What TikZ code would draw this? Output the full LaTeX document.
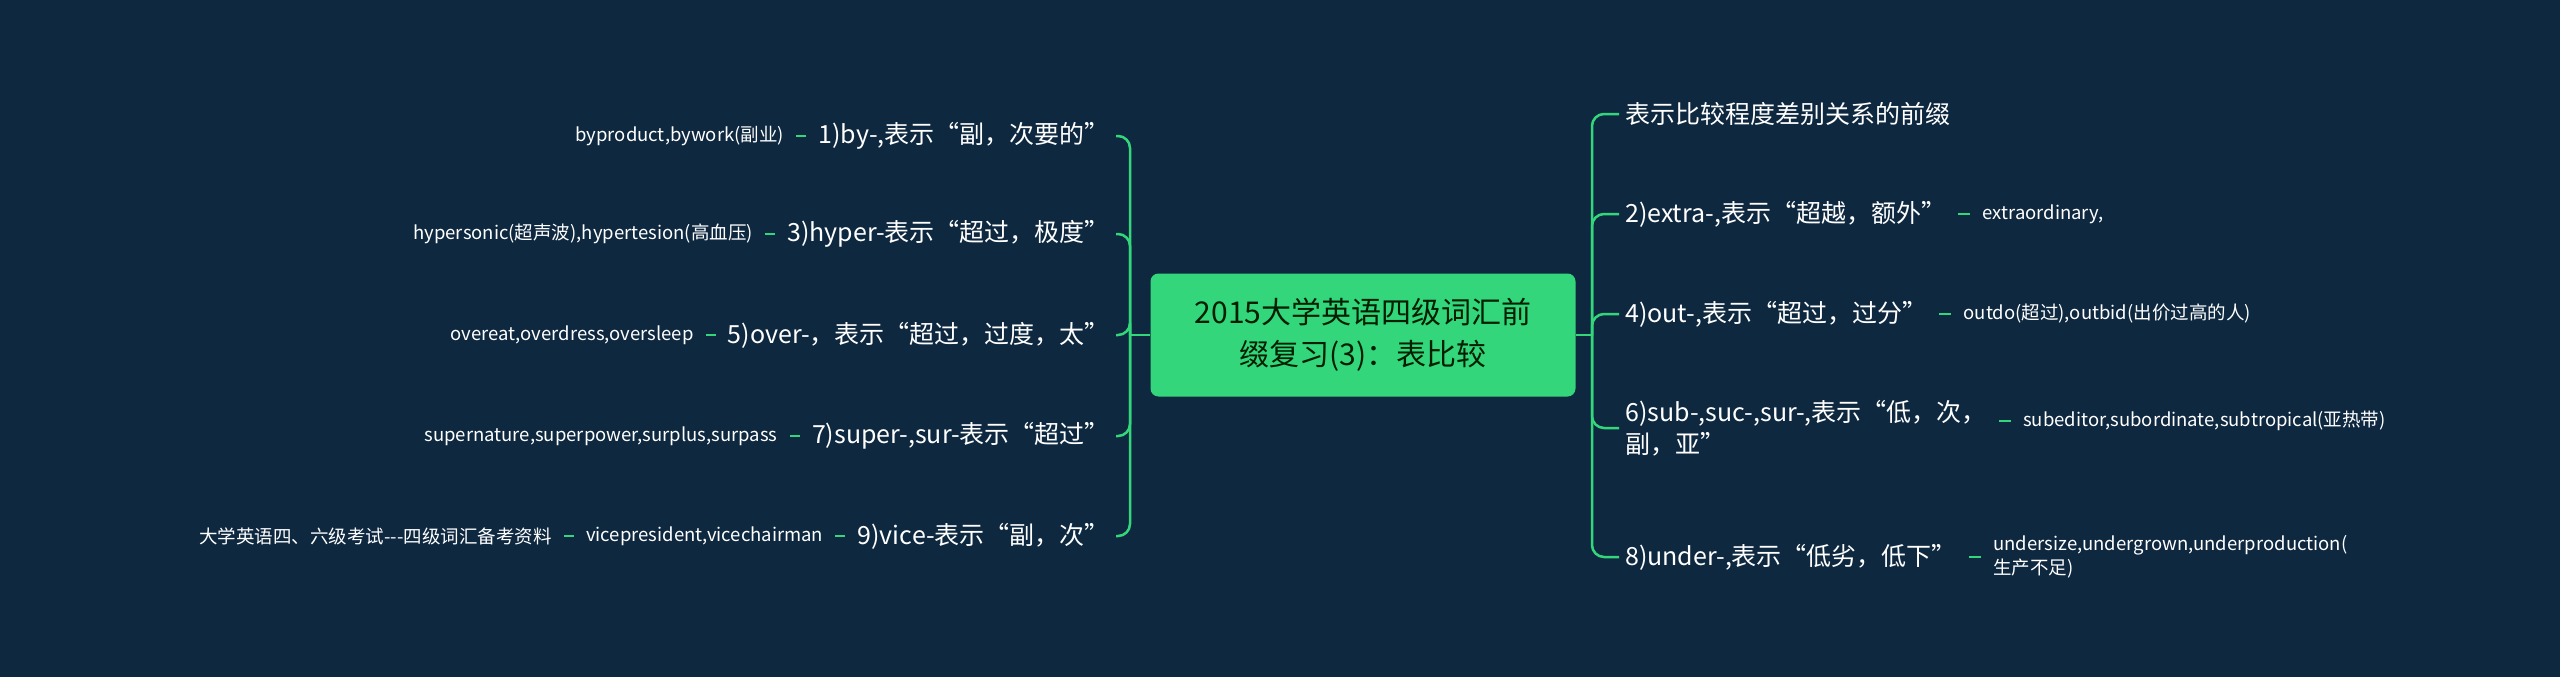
\documentclass[tikz,border=0pt]{standalone}
\usepackage{fontspec}
\setmainfont{Noto Sans CJK SC}
\usetikzlibrary{positioning}
\begin{document}
\begin{tikzpicture}[x=1pt,y=-1pt,
  ln/.style={draw=lg,line width=2.5pt},
  title/.style={text=white,font=\fontsize{25}{32}\selectfont,inner xsep=6pt,inner ysep=2pt,align=left},
  leaf/.style={text=white,font=\fontsize{18.5}{24}\selectfont,inner xsep=6pt,inner ysep=2pt,align=left},
  lk/.style={ln,shorten <=6pt,shorten >=6pt}]
\definecolor{bg}{HTML}{0E2840}
\definecolor{lg}{HTML}{33D67A}
\definecolor{cg}{HTML}{33D67A}
\fill[bg] (0,0) rectangle (2560,677);
\useasboundingbox (0,0) rectangle (2560,677);
\node[fill=cg,rounded corners=8pt,minimum width=425pt,minimum height=123pt,align=center,text=black!80!green!60!black,font=\fontsize{30}{42}\selectfont] (c) at (1363,335) {2015大学英语四级词汇前\\缀复习(3)：表比较};
\coordinate (lt) at (1130,335);
\coordinate (rt) at (1592,335);
% left
\node[title,anchor=east] (l1) at (1116,136) {1)by-,表示“副，次要的”};
\node[title,anchor=east] (l3) at (1116,234) {3)hyper-表示“超过，极度”};
\node[title,anchor=east] (l5) at (1116,335) {5)over-，表示“超过，过度，太”};
\node[title,anchor=east] (l7) at (1116,436) {7)super-,sur-表示“超过”};
\node[title,anchor=east] (l9) at (1116,536) {9)vice-表示“副，次”};
\node[leaf,left=22pt of l1] (a1) {byproduct,bywork(副业)};
\node[leaf,left=22pt of l3] (a3) {hypersonic(超声波),hypertesion(高血压)};
\node[leaf,left=22pt of l5] (a5) {overeat,overdress,oversleep};
\node[leaf,left=22pt of l7] (a7) {supernature,superpower,surplus,surpass};
\node[leaf,left=22pt of l9] (a9) {vicepresident,vicechairman};
\node[leaf,left=22pt of a9] (b9) {大学英语四、六级考试{-}{-}{-}四级词汇备考资料};
\foreach \t/\a in {l1/a1,l3/a3,l5/a5,l7/a7,l9/a9,a9/b9} \draw[lk] (\t.west) -- (\a.east);
\draw[ln] (c.west) -- (lt);
\foreach \t in {l1,l3,l5,l7,l9} \draw[ln,rounded corners=12pt] (lt) -- (lt |- \t.east) -- (\t.east);
% right
\node[title,anchor=west] (r0) at (1619,114) {表示比较程度差别关系的前缀};
\node[title,anchor=west] (r2) at (1619,214) {2)extra-,表示“超越，额外”};
\node[title,anchor=west] (r4) at (1619,314) {4)out-,表示“超过，过分”};
\node[title,anchor=west] (r6) at (1619,428) {6)sub-,suc-,sur-,表示“低，次，\\副，亚”};
\node[title,anchor=west] (r8) at (1619,557) {8)under-,表示“低劣，低下”};
\node[leaf,right=24pt of r2] (d2) {extraordinary,};
\node[leaf,right=24pt of r4] (d4) {outdo(超过),outbid(出价过高的人)};
\node[leaf,anchor=west] (d6) at ([xshift=24pt,yshift=7pt]r6.east) {subeditor,subordinate,subtropical(亚热带)};
\node[leaf,right=24pt of r8] (d8) {undersize,undergrown,underproduction(\\生产不足)};
\foreach \t/\a in {r2/d2,r4/d4,r8/d8} \draw[lk] (\t.east) -- (\a.west);
\draw[lk] (r6.east |- d6.west) -- (d6.west);
\draw[ln] (c.east) -- (rt);
\foreach \t in {r0,r2,r4,r6,r8} \draw[ln,rounded corners=12pt] (rt) -- (rt |- \t.west) -- (\t.west);
\end{tikzpicture}
\end{document}
